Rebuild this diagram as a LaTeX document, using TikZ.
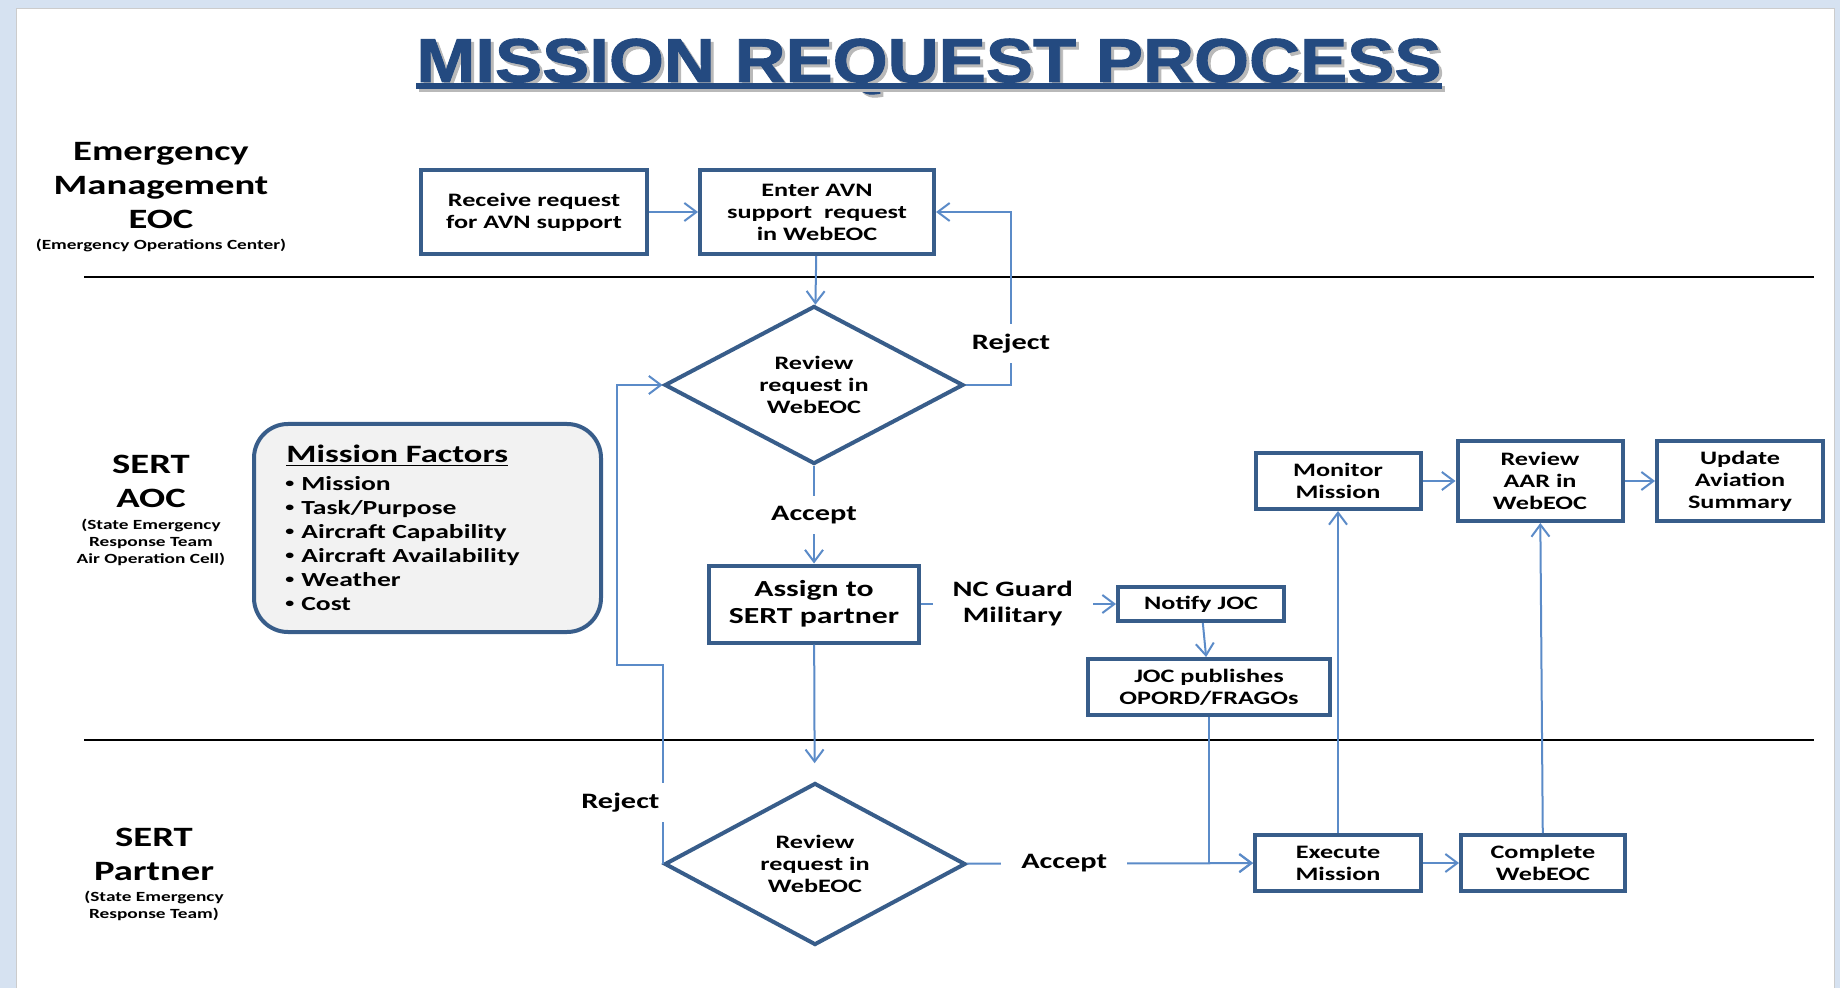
\documentclass[tikz,border=0pt]{standalone}
\usepackage{fontspec}
\setmainfont{Carlito}[FakeStretch=1.38]
\newfontfamily\headfont{Liberation Sans}[FakeStretch=1.14,FakeBold=1.5]
\usetikzlibrary{shapes.geometric,arrows.meta,positioning}

\definecolor{boxblue}{RGB}{56,93,138}
\definecolor{linkblue}{RGB}{91,139,200}
\definecolor{titleblue}{RGB}{36,74,128}
\definecolor{pageblue}{RGB}{214,226,241}
\definecolor{factorgray}{RGB}{242,242,242}

\newcommand{\boxfont}{\fontsize{9.5}{11}\selectfont\bfseries}
\newcommand{\lblfont}{\fontsize{11}{13}\selectfont\bfseries}
\newcommand{\lanefont}{\fontsize{14}{17}\selectfont\bfseries}
\newcommand{\notefont}{\fontsize{7}{8.5}\selectfont\bfseries}
\newcommand{\factoritem}{\raisebox{1.3pt}{\fontsize{6.5}{6.5}\selectfont\textbullet}\hspace{3.5pt}}

\tikzset{
	stepbox/.style={draw=boxblue, line width=2pt, fill=white, align=center, font=\boxfont, inner sep=0pt},
	decision/.style={diamond, aspect=1.9, draw=boxblue, line width=2pt, fill=white, align=center, font=\boxfont, inner sep=0pt, minimum width=149.5pt, minimum height=79pt},
	flowline/.style={draw=linkblue, line width=1pt},
	flowarrow/.style={flowline, -{Straight Barb[length=6pt,width=9pt]}},
	answer/.style={fill=white, font=\lblfont, inner xsep=10pt, inner ysep=5pt},
	lane/.style={align=center, font=\lanefont},
	lanenote/.style={align=center, font=\notefont},
}

\begin{document}
\begin{tikzpicture}[x=0.5pt,y=-0.5pt]
	\useasboundingbox (0,0) rectangle (1840,988);
	\fill[pageblue] (0,0) rectangle (1840,988);
	\draw[gray!40, fill=white] (16,8) rectangle (1834,1010);

	\node[text=gray!55, inner sep=0pt, anchor=base, font=\headfont\fontsize{31}{31}\selectfont\bfseries] (titleshadow) at (932,85) {MISSION REQUEST PROCESS};
	\node[text=titleblue, inner sep=0pt, anchor=base, font=\headfont\fontsize{31}{31}\selectfont\bfseries] (title) at (929,82) {MISSION REQUEST PROCESS};
	\draw[gray!55, line width=3pt] ([xshift=1.5pt,yshift=-3.5pt]title.base west) -- ([xshift=1.5pt,yshift=-3.5pt]title.base east);
	\draw[titleblue, line width=3pt] ([yshift=-2pt]title.base west) -- ([yshift=-2pt]title.base east);

	\draw[line width=1.3pt] (84,277) -- (1814,277);
	\draw[line width=1.3pt] (84,740) -- (1814,740);

	\node[lane] (eoc) at (161,186) {Emergency\\Management\\EOC};
	\node[lanenote] (eocnote) at (161,245) {(Emergency Operations Center)};
	\node[lane] (aoc) at (151,481) {SERT\\AOC};
	\node[lanenote] (aocnote) at (151,542) {(State Emergency\\Response Team\\Air Operation Cell)};
	\node[lane] (partner) at (154,854) {SERT\\Partner};
	\node[lanenote] (partnernote) at (154,906) {(State Emergency\\Response Team)};

	\node[draw=boxblue, line width=2pt, fill=factorgray, rounded corners=17pt, minimum width=173.5pt, minimum height=104pt] (factors) at (427.5,528) {};
	\node[anchor=west, inner sep=0pt, font=\fontsize{12.5}{15}\selectfont\bfseries] (factorhead) at (286,456) {\underline{Mission Factors}};
	\node[anchor=north west, inner sep=0pt, align=left, font=\fontsize{10}{12}\selectfont\bfseries] (factorlist) at (285,476) {\factoritem Mission\\\factoritem Task/Purpose\\\factoritem Aircraft Capability\\\factoritem Aircraft Availability\\\factoritem Weather\\\factoritem Cost};

	\node[stepbox, minimum width=113pt, minimum height=42pt] (receive) at (534,212) {Receive request\\for AVN support};
	\node[stepbox, minimum width=117pt, minimum height=42pt] (enter) at (817,212) {Enter AVN\\support\ \ request\\in WebEOC};
	\node[decision] (review) at (814,385) {Review\\request in\\WebEOC};
	\node[stepbox, minimum width=105pt, minimum height=38.5pt, font=\fontsize{11.5}{13.3}\selectfont\bfseries] (assign) at (814,604) {Assign to\\SERT partner};
	\node[stepbox, minimum width=83pt, minimum height=17pt] (notify) at (1201,604) {Notify JOC};
	\node[stepbox, minimum width=121pt, minimum height=28pt] (joc) at (1209,687) {JOC publishes\\OPORD/FRAGOs};
	\node[stepbox, minimum width=82.5pt, minimum height=28pt] (monitor) at (1338,481) {Monitor\\Mission};
	\node[stepbox, minimum width=82.5pt, minimum height=40pt] (aar) at (1540,481) {Review\\AAR in\\WebEOC};
	\node[stepbox, minimum width=83pt, minimum height=40pt] (update) at (1740,481) {Update\\Aviation\\Summary};
	\node[decision, minimum width=150.5pt, minimum height=81pt] (partnerreview) at (815,864) {Review\\request in\\WebEOC};
	\node[stepbox, minimum width=83pt, minimum height=28pt] (execute) at (1338,863) {Execute\\Mission};
	\node[stepbox, minimum width=82pt, minimum height=28pt] (complete) at (1543,863) {Complete\\WebEOC};

	\coordinate (rejectup) at (1011,212);
	\coordinate (rejectturn) at (617,665);

	\draw[flowarrow] (receive) -- (enter);
	\draw[flowarrow] (enter) -- (review);
	\draw[flowarrow] (review.east) -| node[answer, pos=0.62] {Reject} (rejectup) -- (enter.east);
	\draw[flowarrow] (review) -- node[answer] {Accept} (assign);
	\draw[flowarrow] (assign.east) -- node[answer, align=center, pos=0.47] {NC Guard\\Military} (notify.west);
	\draw[flowarrow] (notify) -- (joc);
	\draw[flowarrow, shorten >=9pt] (assign) -- (partnerreview);
	\draw[flowarrow] (partnerreview.west) |- node[answer, pos=0.155, anchor=east, xshift=3pt, inner xsep=4pt] {Reject} (rejectturn) |- (review.west);
	\draw[flowarrow] (partnerreview) -- node[answer, pos=0.34] {Accept} (execute);
	\draw[flowarrow] (joc) |- (execute);
	\draw[flowarrow] (execute) -- (monitor);
	\draw[flowarrow] (complete) -- (aar);
	\draw[flowarrow] (execute) -- (complete);
	\draw[flowarrow] (monitor) -- (aar);
	\draw[flowarrow] (aar) -- (update);
\end{tikzpicture}
\end{document}
